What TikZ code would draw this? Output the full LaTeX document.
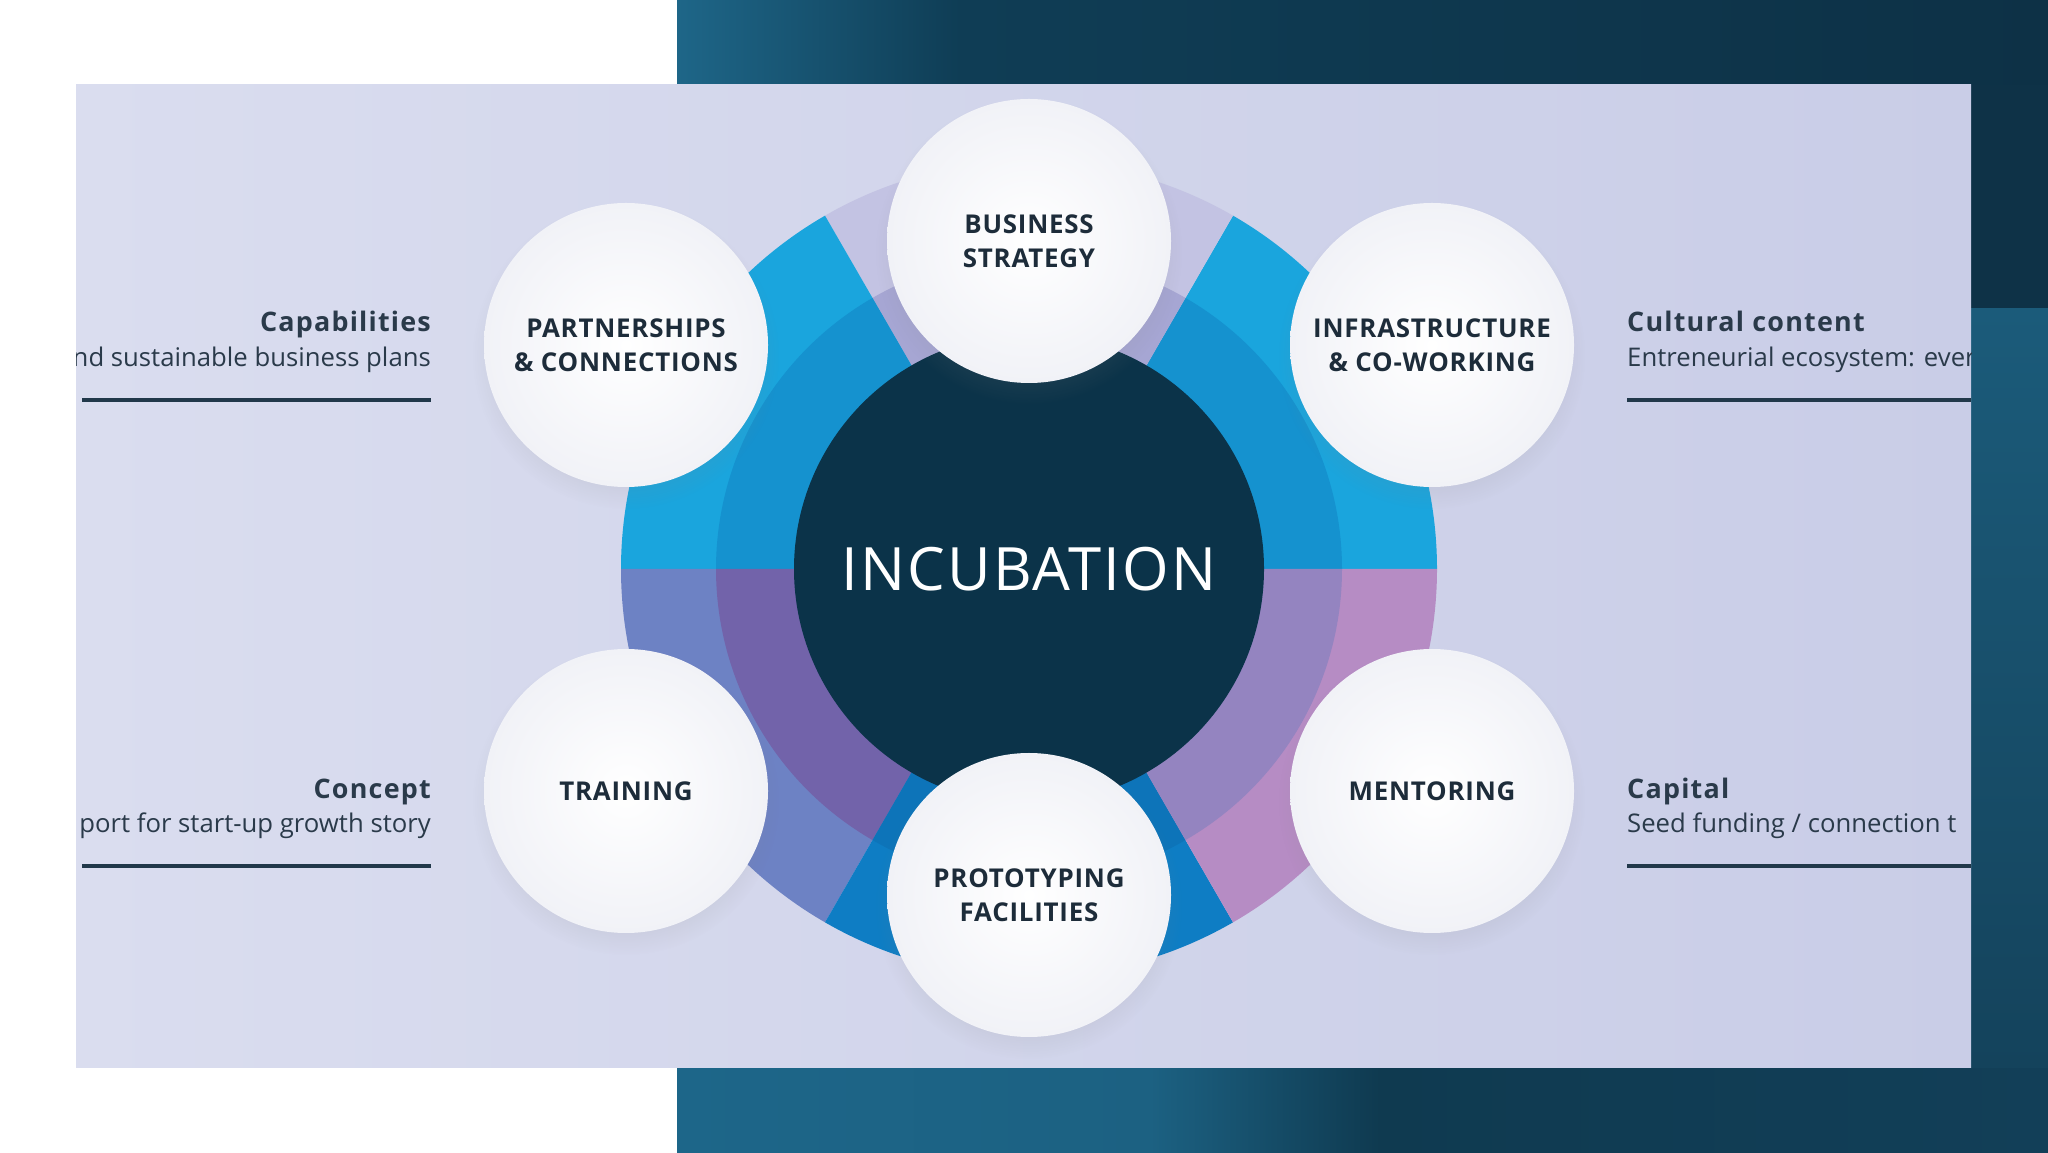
\documentclass[tikz,border=0pt]{standalone}
\usepackage{fontspec}
\setmainfont{Open Sans}
\usepackage{tikz}
\usetikzlibrary{shadows}

\definecolor{coreteal}{HTML}{0B3349}
\definecolor{cyanout}{HTML}{1AA5DD}
\definecolor{cyanin}{HTML}{1592CF}
\definecolor{lavout}{HTML}{C3C3E3}
\definecolor{lavin}{HTML}{A6A6D3}
\definecolor{violout}{HTML}{6D82C4}
\definecolor{violin}{HTML}{7263AA}
\definecolor{blueout}{HTML}{0E7DC4}
\definecolor{bluein}{HTML}{0D74B9}
\definecolor{pinkout}{HTML}{B68CC4}
\definecolor{pinkin}{HTML}{9484C0}
\definecolor{labelink}{HTML}{1D2C3A}
\definecolor{sideink}{HTML}{2A3A4A}
\definecolor{ruleink}{HTML}{21384A}
\definecolor{bubbleedge}{HTML}{F1F2F7}
\definecolor{tealA}{HTML}{1E6688}
\definecolor{tealB}{HTML}{0F3D55}
\definecolor{tealC}{HTML}{0D3146}
\definecolor{tealD}{HTML}{1D6689}
\definecolor{tealE}{HTML}{1C6182}
\definecolor{tealF}{HTML}{0F3A50}
\definecolor{tealG}{HTML}{123F58}
\definecolor{tealH}{HTML}{0E3247}
\definecolor{tealI}{HTML}{1B5B7A}
\definecolor{tealJ}{HTML}{14435C}
\definecolor{panelL}{HTML}{DADDEF}
\definecolor{panelM}{HTML}{E6E7F3}
\definecolor{panelR}{HTML}{C9CDE7}

\begin{document}
\begin{tikzpicture}[x=1bp,y=1bp]
    \tikzstyle{bubble}=[circle,minimum size=284bp,inner sep=0pt,inner color=white,outer color=bubbleedge,
        text=labelink,align=center,font=\fontsize{26}{34}\selectfont\bfseries\addfontfeature{LetterSpace=3},
        circular drop shadow={shadow xshift=0bp,shadow yshift=-10bp,opacity=.1,shadow scale=1.08}]
    \tikzstyle{sidetitle}=[inner sep=0pt,text=sideink,font=\fontsize{27}{32}\selectfont\bfseries\addfontfeature{LetterSpace=4.5}]
    \tikzstyle{sidetext}=[inner sep=0pt,text=sideink,font=\fontsize{25.8}{30}\selectfont]
    \tikzstyle{sidebar}=[draw=ruleink,line width=4bp]
    \useasboundingbox (0,0) rectangle (2048,1152);

    % backdrop
    \fill[white] (0,0) rectangle (2048,1152);
    \fill[left color=tealA,right color=tealB] (677,1067) rectangle (960,1152);
    \fill[left color=tealB,right color=tealC] (960,1067) rectangle (2048,1152);
    \fill[left color=tealD,right color=tealE] (677,0) rectangle (1150,85);
    \fill[left color=tealE,right color=tealF] (1150,0) rectangle (1380,85);
    \fill[left color=tealF,right color=tealG] (1380,0) rectangle (2048,85);
    \fill[tealH] (1971,843) rectangle (2048,1067);
    \fill[top color=tealI,bottom color=tealJ] (1971,85) rectangle (2048,843);
    \fill[left color=panelL,middle color=panelM,right color=panelR] (76,85) rectangle (1971,1067);

    % ring
    \coordinate (ctr) at (1029,583);
    \foreach \a/\c in {0/cyanout,60/lavout,120/cyanout,180/violout,240/blueout,300/pinkout}
        \fill[\c] (ctr) -- ++(\a:408) arc[start angle=\a,delta angle=60,radius=408] -- cycle;
    \foreach \a/\c in {0/cyanin,60/lavin,120/cyanin,180/violin,240/bluein,300/pinkin}
        \fill[\c] (ctr) -- ++(\a:313) arc[start angle=\a,delta angle=60,radius=313] -- cycle;
    \node[circle,fill=coreteal,minimum size=470bp,inner sep=0pt,text=white,
        font=\fontsize{60}{60}\selectfont\addfontfeature{LetterSpace=3.5}] (core) at (ctr) {INCUBATION};

    % bubbles
    \node[bubble] (strategy) at (1029,911) {BUSINESS\\STRATEGY};
    \node[bubble] (partners) at (626,807) {PARTNERSHIPS\\\& CONNECTIONS};
    \node[bubble] (infra) at (1432,807) {INFRASTRUCTURE\\\& CO-WORKING};
    \node[bubble] (training) at (626,361) {TRAINING};
    \node[bubble] (mentoring) at (1432,361) {MENTORING};
    \node[bubble] (proto) at (1029,257) {PROTOTYPING\\FACILITIES};

    % side notes
    \begin{scope}
        \clip (76,85) rectangle (1971,1067);
        \node[sidetitle,anchor=base east] (capTitle) at (431,820) {Capabilities};
        \node[sidetext,anchor=base east] (capText) at (431,785) {nd sustainable business plans};
        \coordinate (capL) at (82,752);
        \coordinate (capR) at (431,752);
        \draw[sidebar] (capL) -- (capR);

        \node[sidetitle,anchor=base east] (conTitle) at (431,353) {Concept};
        \node[sidetext,anchor=base east] (conText) at (431,319) {port for start-up growth story};
        \coordinate (conL) at (82,286);
        \coordinate (conR) at (431,286);
        \draw[sidebar] (conL) -- (conR);

        \node[sidetitle,anchor=base west] (culTitle) at (1627,820) {Cultural content};
        \node[sidetext,anchor=base west] (culText) at (1627,785) {Entreneurial ecosystem: ever};
        \coordinate (culL) at (1627,752);
        \coordinate (culR) at (1971,752);
        \draw[sidebar] (culL) -- (culR);

        \node[sidetitle,anchor=base west] (capiTitle) at (1627,353) {Capital};
        \node[sidetext,anchor=base west] (capiText) at (1627,319) {Seed funding / connection t};
        \coordinate (capiL) at (1627,286);
        \coordinate (capiR) at (1971,286);
        \draw[sidebar] (capiL) -- (capiR);
    \end{scope}
\end{tikzpicture}
\end{document}
